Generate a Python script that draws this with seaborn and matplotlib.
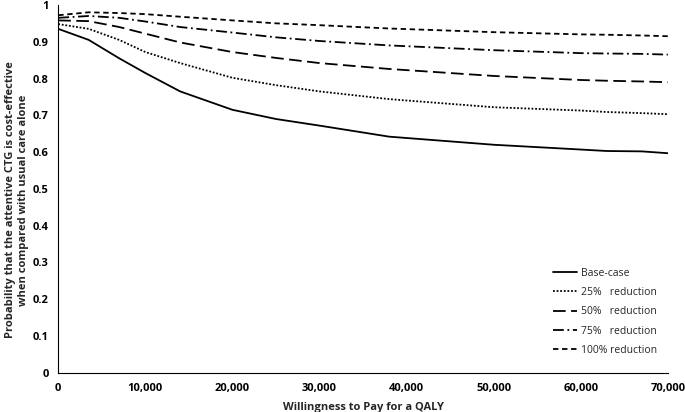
import pandas as pd
import seaborn as sns
import matplotlib.pyplot as plt
from matplotlib.ticker import FuncFormatter

wtp = [0, 3500, 7000, 10000, 14000, 20000, 25000, 30000, 38000, 50000, 60000, 63000, 67000, 70000]
base_case = [0.935, 0.905, 0.855, 0.815, 0.765, 0.715, 0.69, 0.672, 0.642, 0.62, 0.607, 0.603, 0.602, 0.597]
red_25 = [0.948, 0.935, 0.905, 0.872, 0.842, 0.802, 0.782, 0.765, 0.744, 0.722, 0.713, 0.709, 0.706, 0.703]
red_50 = [0.958, 0.956, 0.940, 0.922, 0.898, 0.872, 0.856, 0.842, 0.826, 0.807, 0.796, 0.794, 0.792, 0.790]
red_75 = [0.965, 0.970, 0.965, 0.955, 0.940, 0.925, 0.912, 0.902, 0.890, 0.877, 0.869, 0.868, 0.867, 0.865]
red_100 = [0.972, 0.980, 0.978, 0.975, 0.968, 0.958, 0.950, 0.945, 0.936, 0.926, 0.920, 0.919, 0.917, 0.915]

labels = ["Base-case", "25%   reduction", "50%   reduction", "75%   reduction", "100% reduction"]
series = [base_case, red_25, red_50, red_75, red_100]

rows = []
for lab, vals in zip(labels, series):
    for x, y in zip(wtp, vals):
        rows.append({"wtp": x, "prob": y, "scenario": lab})
df = pd.DataFrame(rows)

sns.set_style("white")
plt.rcParams['font.family'] = ['Open Sans', 'DejaVu Sans']

fig = plt.figure(figsize=(6.85, 4.12), dpi=100)
ax = fig.add_axes([0.085, 0.095, 0.89, 0.893])

dashes = {
    labels[0]: "",
    labels[1]: (1, 1),
    labels[2]: (7, 3),
    labels[3]: (6, 2, 1, 2),
    labels[4]: (3, 2),
}
sns.lineplot(data=df, x="wtp", y="prob", hue="scenario", style="scenario",
             palette=["black"] * 5, dashes=dashes, linewidth=1.3, ax=ax)

ax.set_xlim(0, 70000)
ax.set_ylim(0, 1)
ax.set_xticks(range(0, 70001, 10000))
ax.set_yticks([0, 0.1, 0.2, 0.3, 0.4, 0.5, 0.6, 0.7, 0.8, 0.9, 1])
ax.xaxis.set_major_formatter(FuncFormatter(lambda v, p: f"{int(v):,}"))
ax.yaxis.set_major_formatter(FuncFormatter(lambda v, p: f"{v:g}"))
for t in ax.get_xticklabels() + ax.get_yticklabels():
    t.set_fontweight("bold")
    t.set_fontsize(8)
ax.tick_params(axis="both", direction="out", length=3, width=0.8, colors="black", pad=4)

sns.despine(ax=ax)
for s in ["left", "bottom"]:
    ax.spines[s].set_color("black")
    ax.spines[s].set_linewidth(0.8)

ax.set_xlabel("Willingness to Pay for a QALY", fontsize=8, fontweight="bold", labelpad=6)
ax.set_ylabel("Probability that the attentive CTG is cost-effective\nwhen compared with usual care alone",
              fontsize=8, fontweight="bold")
ax.yaxis.set_label_coords(-0.048, 0.47)

leg = ax.legend(loc="lower right", bbox_to_anchor=(0.997, 0.02), frameon=False, fontsize=7.5,
                handlelength=2.3, handletextpad=0.3, labelspacing=0.8, title=None)

fig.savefig("out.png", dpi=100)
